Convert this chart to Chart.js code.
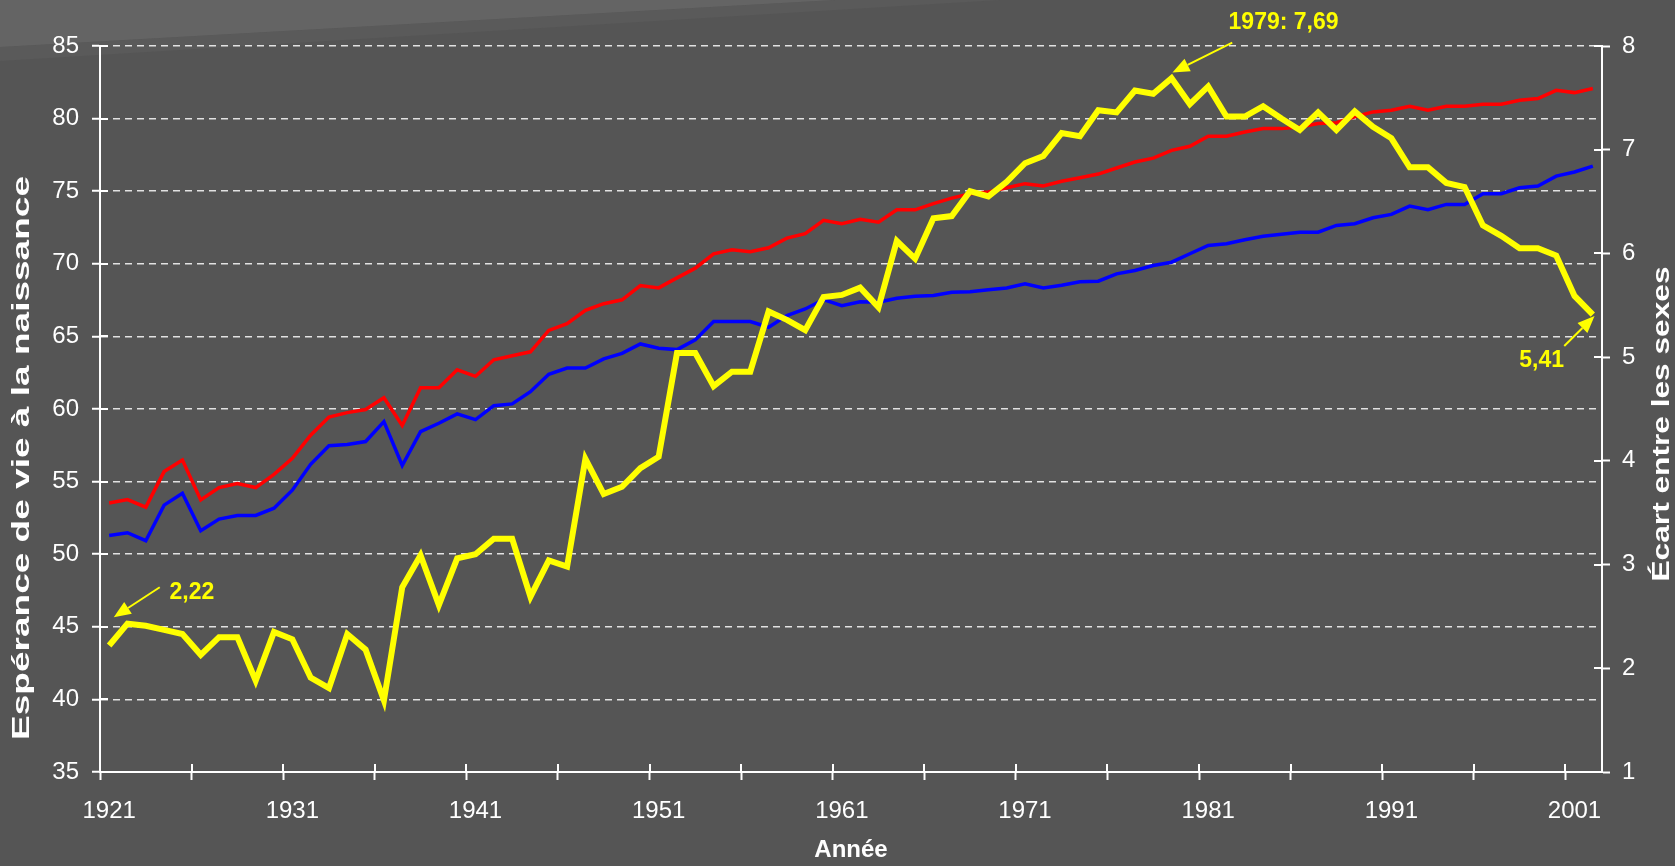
<!DOCTYPE html>
<html><head><meta charset="utf-8">
<script src="https://cdn.jsdelivr.net/npm/chart.js@4.4.1/dist/chart.umd.min.js"></script>
<style>html,body{margin:0;padding:0;background:#555555;overflow:hidden}#wrap{width:1675px;height:866px;position:relative}</style>
</head><body><div id="wrap"><canvas id="c" width="1675" height="866"></canvas></div>
<script>
const years = ['1921','1922','1923','1924','1925','1926','1927','1928','1929','1930',
'1931','1932','1933','1934','1935','1936','1937','1938','1939','1940',
'1941','1942','1943','1944','1945','1946','1947','1948','1949','1950',
'1951','1952','1953','1954','1955','1956','1957','1958','1959','1960',
'1961','1962','1963','1964','1965','1966','1967','1968','1969','1970',
'1971','1972','1973','1974','1975','1976','1977','1978','1979','1980',
'1981','1982','1983','1984','1985','1986','1987','1988','1989','1990',
'1991','1992','1993','1994','1995','1996','1997','1998','1999','2000',
'2001','2002'];
const femaleLE = [53.52,53.76,53.24,55.69,56.49,53.74,54.59,54.86,54.59,55.5,
56.6,58.2,59.45,59.75,59.96,60.78,58.86,61.47,61.47,62.7,
62.25,63.39,63.67,63.94,65.41,65.87,66.79,67.25,67.52,68.5,
68.34,69.03,69.7,70.69,70.97,70.83,71.1,71.77,72.07,72.99,
72.76,73.06,72.87,73.72,73.72,74.14,74.52,74.83,74.94,75.24,
75.52,75.36,75.68,75.93,76.18,76.6,77.01,77.28,77.81,78.09,
78.78,78.78,79.08,79.31,79.31,79.42,79.66,79.72,80.13,80.46,
80.57,80.85,80.57,80.85,80.85,80.99,80.99,81.26,81.38,81.95,
81.79,82.07];
const maleLE = [51.29,51.48,50.93,53.38,54.2,51.62,52.42,52.67,52.67,53.17,
54.41,56.19,57.47,57.55,57.76,59.13,56.11,58.44,59.02,59.66,
59.27,60.23,60.35,61.19,62.39,62.82,62.82,63.45,63.83,64.48,
64.18,64.09,64.76,66.02,66.02,66.02,65.63,66.43,66.89,67.54,
67.12,67.38,67.35,67.63,67.77,67.82,68.04,68.07,68.21,68.34,
68.62,68.34,68.52,68.76,68.8,69.31,69.54,69.88,70.11,70.69,
71.26,71.38,71.66,71.9,72.04,72.18,72.18,72.64,72.76,73.17,
73.4,73.97,73.72,74.09,74.09,74.83,74.83,75.24,75.36,76.04,
76.32,76.73];
const gapLE = [2.22,2.43,2.41,2.37,2.33,2.13,2.30,2.30,1.88,2.35,
2.28,1.91,1.81,2.33,2.18,1.69,2.78,3.09,2.61,3.06,
3.10,3.25,3.25,2.69,3.04,2.98,4.02,3.68,3.75,3.93,
4.04,5.04,5.04,4.72,4.86,4.86,5.44,5.36,5.26,5.58,
5.60,5.67,5.48,6.12,5.95,6.34,6.36,6.60,6.55,6.69,
6.87,6.94,7.16,7.13,7.38,7.36,7.57,7.54,7.69,7.44,
7.61,7.32,7.32,7.42,7.30,7.19,7.36,7.19,7.37,7.22,
7.11,6.83,6.83,6.68,6.64,6.27,6.17,6.05,6.05,5.98,
5.59,5.41];
const leftTicks = [35,40,45,50,55,60,65,70,75,80,85];
const rightTicks = [1,2,3,4,5,6,7,8];
const annotYears = ['1921','1979','2002'];
const annotTexts = ['2,22','1979: 7,69','5,41'];
const leftTitle = 'Espérance de vie à la naissance';
const rightTitle = 'Écart entre les sexes';
const xTitle = 'Année';

const FONT = '"Liberation Sans", Arial, Helvetica, sans-serif';
const WHITE = '#ffffff';
const YELLOW = '#ffff00';

// offsets relative to the annotated point: arrow tip, arrow tail, text left/middle
const annotGeom = [
  {tip:[4.6,-28.2], tail:[50.6,-58.2], text:[60.3,-53.2]},
  {tip:[0.9,-5.6], tail:[60.7,-35.6], text:[57,-55.8]},
  {tip:[1.7,1.4], tail:[-28.6,31.4], text:[-73.6,46.4]}
];

const bgPlugin = {
  id:'bg',
  beforeDraw(chart){
    const ctx = chart.ctx, w = chart.width, h = chart.height;
    ctx.save();
    ctx.fillStyle = '#555555';
    ctx.fillRect(0,0,w,h);
    ctx.fillStyle = '#5a5a5a';
    ctx.beginPath(); ctx.moveTo(0,47); ctx.lineTo(835,0); ctx.lineTo(1000,0); ctx.lineTo(0,61); ctx.closePath(); ctx.fill();
    ctx.fillStyle = '#646464';
    ctx.beginPath(); ctx.moveTo(0,0); ctx.lineTo(835,0); ctx.lineTo(0,47); ctx.closePath(); ctx.fill();
    ctx.restore();
  }
};

function drawVerticalTitle(ctx, text, cx, cy, targetLen){
  ctx.save();
  ctx.fillStyle = WHITE;
  ctx.font = 'bold 24px ' + FONT;
  ctx.textAlign = 'center'; ctx.textBaseline = 'middle';
  const w = ctx.measureText(text).width;
  ctx.translate(cx, cy);
  ctx.rotate(-Math.PI / 2);
  ctx.scale(targetLen / w, 1);
  ctx.fillText(text, 0, 0);
  ctx.restore();
}

const innerTicks = {
  id:'innerTicks',
  afterDraw(chart){
    const {ctx, chartArea:a, scales} = chart;
    const x = scales.x, y = scales.y, y1 = scales.y1;
    ctx.save();
    ctx.strokeStyle = WHITE; ctx.lineWidth = 2; ctx.setLineDash([]);
    ctx.beginPath();
    leftTicks.forEach(v => { const py = Math.round(y.getPixelForValue(v)); ctx.moveTo(a.left, py); ctx.lineTo(a.left + 8, py); });
    rightTicks.forEach(v => { const py = Math.round(y1.getPixelForValue(v)); ctx.moveTo(a.right - 8, py); ctx.lineTo(a.right, py); });
    const half = (x.getPixelForValue(1) - x.getPixelForValue(0)) / 2;
    for (let i = 0; i < years.length; i += 5) {
      const px = Math.round(x.getPixelForValue(i) - half);
      ctx.moveTo(px, a.bottom); ctx.lineTo(px, a.bottom - 8);
    }
    ctx.stroke();
    ctx.restore();
    drawVerticalTitle(ctx, leftTitle, 22, 458, 564);
    drawVerticalTitle(ctx, rightTitle, 1662, 424, 315);
  }
};

const annotPlugin = {
  id:'annot',
  afterDatasetsDraw(chart){
    const ctx = chart.ctx;
    const meta = chart.getDatasetMeta(2);
    ctx.save();
    annotYears.forEach((yr, k) => {
      const idx = years.indexOf(yr);
      const p = meta.data[idx];
      const g = annotGeom[k];
      const tipX = p.x + g.tip[0], tipY = p.y + g.tip[1];
      const tailX = p.x + g.tail[0], tailY = p.y + g.tail[1];
      const ang = Math.atan2(tipY - tailY, tipX - tailX);
      const L = 17, W = 7;
      const bx = tipX - L * Math.cos(ang), by = tipY - L * Math.sin(ang);
      ctx.strokeStyle = YELLOW; ctx.fillStyle = YELLOW; ctx.lineWidth = 2;
      ctx.beginPath(); ctx.moveTo(tailX, tailY); ctx.lineTo(bx, by); ctx.stroke();
      ctx.beginPath();
      ctx.moveTo(tipX, tipY);
      ctx.lineTo(bx + W * Math.sin(ang), by - W * Math.cos(ang));
      ctx.lineTo(bx - W * Math.sin(ang), by + W * Math.cos(ang));
      ctx.closePath(); ctx.fill();
      ctx.font = 'bold 23px ' + FONT;
      ctx.textAlign = 'left'; ctx.textBaseline = 'middle';
      ctx.fillText(annotTexts[k], p.x + g.text[0], p.y + g.text[1]);
    });
    ctx.restore();
  }
};

new Chart(document.getElementById('c'), {
  type:'line',
  data:{
    labels: years,
    datasets:[
      {label:'Espérance de vie des femmes', data:femaleLE, borderColor:'#ff0000', borderWidth:3.5, yAxisID:'y', order:1},
      {label:'Espérance de vie des hommes', data:maleLE, borderColor:'#0000ff', borderWidth:3.5, yAxisID:'y', order:2},
      {label:'Écart entre les sexes', data:gapLE, borderColor:YELLOW, borderWidth:6, yAxisID:'y1', order:0}
    ]
  },
  options:{
    responsive:false, animation:false, devicePixelRatio:1,
    layout:{padding:{top:46, left:0, right:0, bottom:0}},
    elements:{point:{radius:0, hoverRadius:0}, line:{tension:0, borderJoinStyle:'miter', borderCapStyle:'butt', fill:false}},
    plugins:{legend:{display:false}, tooltip:{enabled:false}},
    scales:{
      x:{
        type:'category', offset:true,
        afterFit(s){ s.height = 94; },
        grid:{display:true, offset:true, drawOnChartArea:false, drawTicks:true, tickLength:8, tickWidth:2,
          tickColor:(c) => (c.index % 5 === 0 ? WHITE : 'rgba(0,0,0,0)')},
        border:{display:true, color:WHITE, width:2},
        ticks:{autoSkip:false, maxRotation:0, minRotation:0, padding:17, color:WHITE,
          font:{family:FONT, size:24}, callback:(v, i) => (i % 10 === 0 ? years[i] : '')},
        title:{display:true, text:xTitle, color:WHITE, font:{family:FONT, size:24, weight:'bold'}, padding:{top:0, bottom:1}}
      },
      y:{
        position:'left', min:35, max:85,
        afterFit(s){ s.width = 100; },
        afterBuildTicks(s){ s.ticks = leftTicks.map(v => ({value:v})); },
        grid:{color:'#e2e2e2', lineWidth:1.5, tickColor:WHITE, tickWidth:2, tickLength:8},
        border:{display:true, color:WHITE, width:2, dash:[7,5]},
        ticks:{color:WHITE, padding:13, font:{family:FONT, size:24}},
        title:{display:false}
      },
      y1:{
        position:'right', min:1, max:8,
        afterFit(s){ s.width = 73; },
        afterBuildTicks(s){ s.ticks = rightTicks.map(v => ({value:v})); },
        grid:{drawOnChartArea:false, tickColor:WHITE, tickWidth:2, tickLength:8},
        border:{display:true, color:WHITE, width:2},
        ticks:{color:WHITE, padding:12, font:{family:FONT, size:24}}
      }
    }
  },
  plugins:[bgPlugin, innerTicks, annotPlugin]
});
</script></body></html>
